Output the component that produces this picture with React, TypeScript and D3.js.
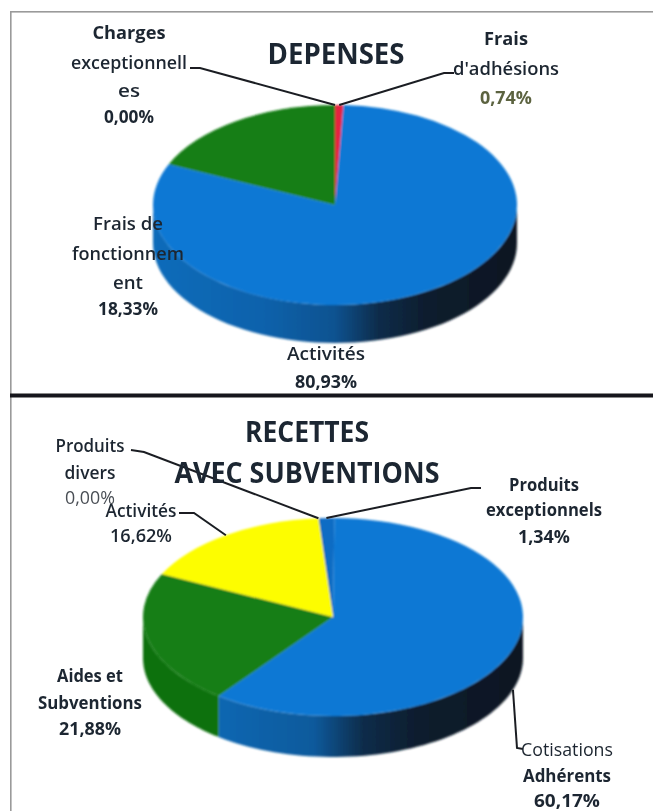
import React from "react";
import * as d3 from "d3";

const depensesCategories = ["Frais d'adhésions", "Activités", "Frais de fonctionnement", "Charges exceptionnelles"];
const depensesValues = [0.74, 80.93, 18.33, 0.0];
const depensesColors = ["#e5203f", "#0a78d4", "#127e12", "#7a4fa0"];
const depensesStart = 0;

const recettesCategories = ["Produits exceptionnels", "Cotisations Adhérents", "Aides et Subventions", "Activités", "Produits divers"];
const recettesValues = [1.34, 60.17, 21.88, 16.62, 0.0];
const recettesColors = ["#0a6cc4", "#0a78d4", "#127e12", "#fdfd00", "#8a8a8a"];
const recettesStart = -4.4;

type Label = { lines: string[]; x: number; ys: number[]; weights: number[]; lastColor?: string; widths: number[] };

const depensesLabels: Label[] = [
  { lines: ["Charges", "exceptionnell", "es", "0,00%"], x: 129, ys: [39, 69, 97, 123], widths: [73, 116, 22, 50], weights: [700, 600, 600, 700] },
  { lines: ["Frais", "d'adhésions", "0,74%"], x: 506, ys: [45, 75, 104], lastColor: "#5c6340", widths: [44, 106, 52], weights: [700, 600, 700] },
  { lines: ["Frais de", "fonctionnem", "ent", "18,33%"], x: 128, ys: [230, 260, 289, 315], widths: [70, 112, 30, 60], weights: [600, 600, 600, 700] },
  { lines: ["Activités", "80,93%"], x: 326, ys: [360, 388], widths: [78, 62], weights: [600, 700] },
];
const recettesLabels: Label[] = [
  { lines: ["Produits", "divers", "0,00%"], x: 90, ys: [452, 479, 504], widths: [69, 51, 50], weights: [600, 600, 400], lastColor: "#4a4f55" },
  { lines: ["Activités", "16,62%"], x: 141, ys: [517, 542], widths: [71, 62], weights: [600, 600] },
  { lines: ["Produits", "exceptionnels", "1,34%"], x: 544, ys: [491, 516, 543], widths: [70, 116, 52], weights: [700, 700, 700] },
  { lines: ["Aides et", "Subventions", "21,88%"], x: 90, ys: [682, 709, 735], widths: [66, 104, 62], weights: [700, 700, 700] },
  { lines: ["Cotisations", "Adhérents", "60,17%"], x: 567, ys: [756, 782, 807], widths: [92, 88, 66], weights: [400, 700, 700] },
];

// Leader elbows: label end -> elbow -> slice at its mid angle
const depensesLeaders = [
  { slice: 3, from: [190, 68], elbow: [200, 68] },
  { slice: 0, from: [454, 73], elbow: [444, 73] },
];
const recettesLeaders = [
  { slice: 4, from: [131, 450], elbow: [144, 452] },
  { slice: 0, from: [481, 488], elbow: [471, 488] },
  { slice: 3, from: [179, 513], elbow: [194, 513] },
  { slice: 1, from: [523, 749], elbow: [517, 748], side: true },
];

const rad = Math.PI / 180;

function Pie3D(props: {
  id: string; values: number[]; colors: string[]; start: number;
  cx: number; cy: number; rx: number; ry: number; depth: number;
  leaders: { slice: number; from: number[]; elbow: number[]; side?: boolean }[];
  stops: [number, string][]; sideColors: Record<number, string>;
}) {
  const { id, values, colors, start, cx, cy, rx, ry, depth, leaders, stops, sideColors } = props;
  const arcs = d3.pie<number>().sort(null).startAngle(start * rad).endAngle(start * rad + 2 * Math.PI)(values);
  const arc = d3.arc<d3.PieArcDatum<number>>().innerRadius(0).outerRadius(rx);
  const pt = (a: number, dy = 0) => [cx + rx * Math.sin(a), cy - ry * Math.cos(a) + dy];
  const line = d3.line();
  const sides = arcs.map((d, i) => {
    const a0 = Math.max(d.startAngle, Math.PI / 2);
    const a1 = Math.min(d.endAngle, 1.5 * Math.PI);
    if (a1 <= a0) return null;
    const angles = d3.range(0, 61).map((k) => a0 + ((a1 - a0) * k) / 60);
    const pts = [...angles.map((a) => pt(a)), ...angles.slice().reverse().map((a) => pt(a, depth))] as [number, number][];
    return <path key={i} d={line(pts)! + "Z"} fill={sideColors[i] ?? `url(#${id}-side)`} />;
  });
  return (
    <g>
      <defs>
        <linearGradient id={`${id}-side`} gradientUnits="userSpaceOnUse" x1={cx - rx} x2={cx + rx} y1={0} y2={0}>
          {stops.map(([o, c], i) => <stop key={i} offset={o} stopColor={c} />)}
        </linearGradient>
      </defs>
      <g filter="url(#soft)">
        {sides}
        <g transform={`translate(${cx},${cy}) scale(1,${ry / rx})`}>
          {arcs.map((d, i) => <path key={i} d={arc(d)!} fill={colors[i]} />)}
        </g>
      </g>
      {leaders.map((l, i) => {
        const d = arcs[l.slice];
        const mid = (d.startAngle + d.endAngle) / 2;
        const end = pt(mid, l.side ? depth : 0);
        return <path key={i} d={line([l.from, l.elbow, end] as [number, number][])!} fill="none" stroke="#1a1f24" strokeWidth={2} filter="url(#softer)" />;
      })}
    </g>
  );
}

function Labels({ items }: { items: Label[] }) {
  return (
    <g filter="url(#softer)" fontFamily="'Open Sans', sans-serif" fontSize={18} textAnchor="middle">
      {items.map((l, i) => l.lines.map((t, j) => (
        <text key={`${i}-${j}`} x={l.x} y={l.ys[j]} fontWeight={l.weights[j]}
          fill={j === l.lines.length - 1 && l.lastColor ? l.lastColor : "#1d2630"}
          textLength={l.widths[j]} lengthAdjust="spacingAndGlyphs">{t}</text>
      )))}
    </g>
  );
}

export default function App() {
  return (
    <svg width={653} height={811} viewBox="0 0 653 811" style={{ position: "absolute", left: 0, top: 0, background: "#fff" }}>
      <defs>
        <filter id="soft" x="-5%" y="-5%" width="110%" height="110%"><feGaussianBlur stdDeviation="0.8" /></filter>
        <filter id="softer" x="-5%" y="-5%" width="110%" height="110%"><feGaussianBlur stdDeviation="0.45" /></filter>
      </defs>
      <rect x={10} y={11} width={643} height={1.6} fill="#9a9a9a" />
      <rect x={10} y={11} width={1.6} height={800} fill="#9a9a9a" />
      <Pie3D id="dep" values={depensesValues} colors={depensesColors} start={depensesStart}
        cx={335} cy={205} rx={182} ry={100} depth={38} leaders={depensesLeaders}
        stops={[[0, "#0e6cba"], [0.3, "#0f62ac"], [0.5, "#0e5290"], [0.62, "#0c2c4a"], [0.75, "#0b1d2e"], [1, "#0a1622"]]}
        sideColors={{}} />
      <Pie3D id="rec" values={recettesValues} colors={recettesColors} start={recettesStart}
        cx={333} cy={617} rx={190} ry={99} depth={41} leaders={recettesLeaders}
        stops={[[0, "#0e6cba"], [0.22, "#0f66b0"], [0.45, "#0e5a9c"], [0.58, "#0c2c4a"], [0.72, "#0b1d2e"], [1, "#0a1622"]]}
        sideColors={{ 2: "#10710f" }} />
      <rect x={10} y={393.5} width={643} height={4} fill="#17191c" filter="url(#softer)" />
      <g filter="url(#softer)" fontFamily="'Open Sans', sans-serif" fontWeight={700} fill="#1a2530" textAnchor="middle">
        <text x={336} y={64} fontSize={28} textLength={137} lengthAdjust="spacingAndGlyphs">DEPENSES</text>
        <text x={307} y={442} fontSize={28} textLength={124} lengthAdjust="spacingAndGlyphs">RECETTES</text>
        <text x={307} y={483} fontSize={28} textLength={265} lengthAdjust="spacingAndGlyphs">AVEC SUBVENTIONS</text>
      </g>
      <Labels items={depensesLabels} />
      <Labels items={recettesLabels} />
    </svg>
  );
}
